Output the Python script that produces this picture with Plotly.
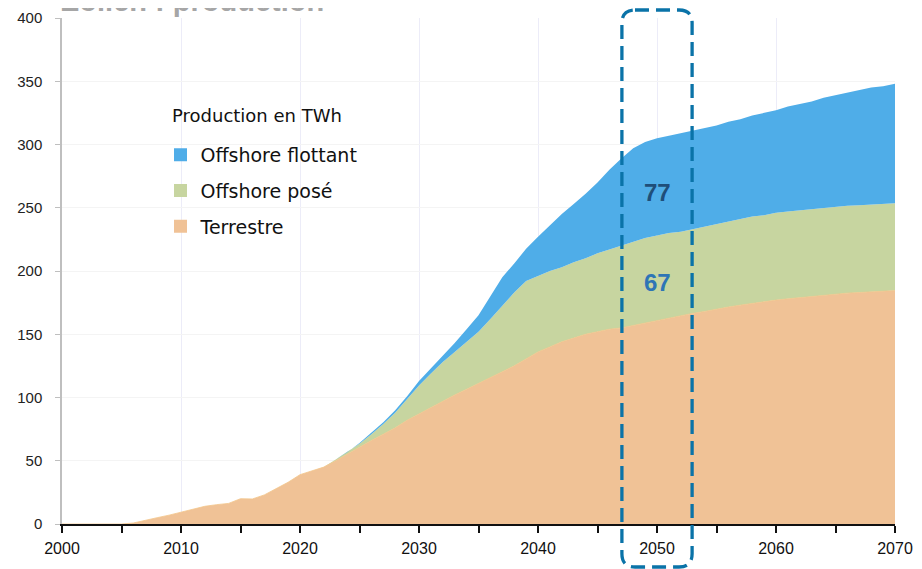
import plotly.graph_objects as go

years = list(range(2000, 2071))

# cumulated tops (TWh)
top_terrestre = [0, 0, 0, 0, 0, 0, 0.8, 2.6, 5, 7, 9.2, 12, 14, 15.3, 16.3, 20, 19.8, 23, 27.7, 33,
                 39, 42, 45, 50, 55.5, 61, 66, 71, 76, 82, 87, 92, 97.5, 102, 106.5, 111, 116, 120.5, 125, 130.5,
                 136, 140, 144, 147, 150, 152, 154, 155, 157, 159, 161, 163, 165, 166.5, 168, 170, 171.5, 173, 174.5, 176,
                 177, 178, 179, 180, 181, 182, 182.5, 183, 183.5, 184, 184.5]
top_pose = [0, 0, 0, 0, 0, 0, 0.8, 2.6, 5, 7, 9.2, 12, 14, 15.3, 16.3, 20, 19.8, 23, 27.7, 33,
            39, 42, 45, 51, 57, 63.5, 71, 79, 88, 99, 109.5, 119, 128, 136, 144, 152, 162, 172.5, 183, 192,
            196, 200, 203, 207, 210, 214, 217, 220, 223, 226, 228, 230, 231, 233, 235, 237, 239, 241, 243, 244,
            246, 247, 248, 249, 250, 251, 251.5, 252, 252.5, 253, 253.5]
top_flottant = [0, 0, 0, 0, 0, 0, 0.8, 2.6, 5, 7, 9.2, 12, 14, 15.3, 16.3, 20, 19.8, 23, 27.7, 33,
                39, 42, 45, 51, 57, 64, 72, 80.5, 90, 101, 113, 123, 133, 143, 154, 165, 180, 195, 206, 217.5,
                227, 236, 245, 253, 261, 270, 280, 289, 297, 302, 305, 307, 309, 311, 313, 315, 318, 320, 323, 325,
                327, 330, 332, 334, 337, 339, 341, 343, 345, 346, 348]

terrestre = top_terrestre
pose = [round(b - a, 2) for a, b in zip(top_terrestre, top_pose)]
flottant = [round(c - b, 2) for b, c in zip(top_pose, top_flottant)]

names = ['Terrestre', 'Offshore posé', 'Offshore flottant']
colors = ['#F0C296', '#C7D5A0', '#4FADE8']

fig = go.Figure()
fig.add_trace(go.Scatter(x=years, y=terrestre, name=names[0], stackgroup='one', mode='lines',
                         line=dict(width=0.8, color='#F3C58A'), fillcolor=colors[0], showlegend=False))
fig.add_trace(go.Scatter(x=years, y=pose, name=names[1], stackgroup='one', mode='lines',
                         line=dict(width=0), fillcolor=colors[1], showlegend=False))
fig.add_trace(go.Scatter(x=years, y=flottant, name=names[2], stackgroup='one', mode='lines',
                         line=dict(width=0), fillcolor=colors[2], showlegend=False))

# legend entries with square swatches, top to bottom
for i in [2, 1, 0]:
    fig.add_trace(go.Scatter(x=[None], y=[None], mode='markers', name=names[i], legendgroup=str(i),
                             marker=dict(symbol='square', size=13, color=colors[i])))

# white patch behind the legend (hides the grid there)
fig.add_shape(type='rect', xref='x', yref='y', x0=2007.5, x1=2028.1, y0=202, y1=372,
              fillcolor='white', line=dict(width=0), layer='below')

# dashed rounded frame around 2050
x0, x1, y0, y1 = 2047.05, 2052.95, -0.085, 1.0158
rx, ry = 1.1, 0.026
path = (f'M {x0+rx},{y1} L {x1-rx},{y1} Q {x1},{y1} {x1},{y1-ry} '
        f'L {x1},{y0+ry} Q {x1},{y0} {x1-rx},{y0} L {x0+rx},{y0} Q {x0},{y0} {x0},{y0+ry} '
        f'L {x0},{y1-ry} Q {x0},{y1} {x0+rx},{y1} Z')
fig.add_shape(type='path', path=path, xref='x', yref='paper',
              line=dict(color='#0A73A8', width=3.3, dash='14px,7px'))

fig.add_annotation(x=2050, y=262, text='<b>77</b>', showarrow=False,
                   font=dict(family='Arial', size=24, color='#1F4E79'))
fig.add_annotation(x=2050, y=191, text='<b>67</b>', showarrow=False,
                   font=dict(family='Arial', size=24, color='#2E75B6'))

fig.add_annotation(xref='paper', yref='paper', x=-0.005, y=1, xanchor='left', yanchor='bottom', yshift=-1,
                   text='<b>Eolien : production</b>', showarrow=False,
                   font=dict(family='Arial', size=29, color='#A6A6A6'))

# legend title
fig.add_annotation(xref='paper', yref='paper', x=0.1295, y=(524 - 115) / 506, xanchor='left', yanchor='middle',
                   text='Production en TWh', showarrow=False,
                   font=dict(family='DejaVu Sans', size=18, color='#111111'))

# page body adds an 8px offset, so the margins are shifted to compensate
fig.update_layout(
    width=922, height=569,
    margin=dict(l=54, r=35, t=10, b=53),
    plot_bgcolor='white', paper_bgcolor='white',
    font=dict(family='Arial', size=14, color='#222222'),
    showlegend=True,
    legend=dict(traceorder='grouped', font=dict(family='DejaVu Sans', size=19, color='#111111'),
                x=(160.5 - 62) / 833, y=(524 - 136) / 506, xanchor='left', yanchor='top',
                bgcolor='rgba(0,0,0,0)', tracegroupgap=8),
    xaxis=dict(range=[2000, 2070], dtick=10, showgrid=True, gridcolor='#ECECF8', gridwidth=1,
               showline=True, linecolor='#111111', linewidth=2, ticks='outside', ticklen=7,
               tickcolor='#111111', tickwidth=1.5, minor=dict(dtick=5, ticks='outside', ticklen=7,
                                                              tickcolor='#111111', showgrid=False),
               tickfont=dict(family='Arial', size=16, color='#111111'), ticklabelstandoff=2,
               zeroline=False, automargin=False),
    yaxis=dict(range=[0, 400], dtick=50, showgrid=True, gridcolor='#F4F4F4', gridwidth=1,
               showline=True, linecolor='#BFBFBF', linewidth=1.5, ticks='outside', ticklen=5,
               tickcolor='#BFBFBF', tickfont=dict(size=15, color='#222222'), ticklabelstandoff=10,
               zeroline=False, automargin=False),
)

fig.write_html("out.html")
